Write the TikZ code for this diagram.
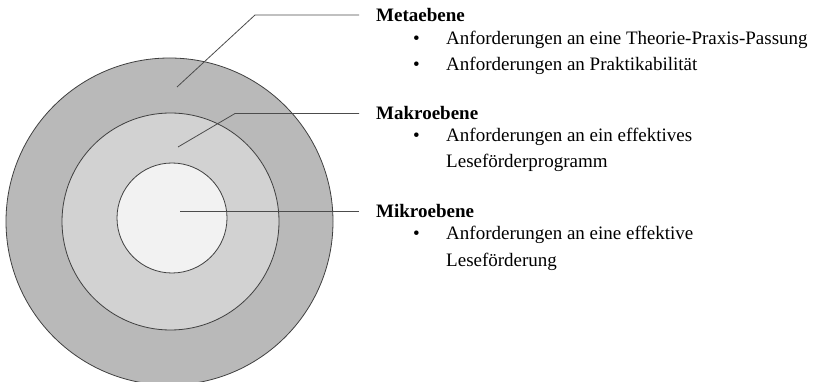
\documentclass[tikz,border=0pt]{standalone}
\usepackage{fontspec}
\setmainfont{Liberation Serif}
\usetikzlibrary{positioning}

\tikzset{
  ring/.style={draw=black!75, line width=0.8pt},
  lead/.style={draw=black!70, line width=0.8pt},
  level/.style={anchor=west, inner xsep=17pt, inner ysep=0pt, font=\fontsize{19}{26}\selectfont\bfseries},
  item/.style={anchor=base west, inner sep=0pt, font=\fontsize{19}{26}\selectfont},
  dot/.style={anchor=base, inner sep=0pt, font=\fontsize{19}{26}\selectfont}
}

\begin{document}
\begin{tikzpicture}[x=1pt,y=-1pt]
        \useasboundingbox (0,0) rectangle (814,382);
        % rings
        \draw[ring, fill=gray!55] (169.5,221.5) circle (163.5);
        \draw[ring, fill=gray!35] (170.5,221.5) circle (108.5);
        \draw[ring, fill=gray!10] (172,218) circle (55);
        % headings
        \node[level] (meta) at (359,15) {Metaebene};
        \node[level] (makro) at (359,113.5) {Makroebene};
        \node[level] (mikro) at (359,211) {Mikroebene};
        % leader lines
        \coordinate (metain) at (177,87);
        \coordinate (metaknee) at (255,15);
        \coordinate (makroin) at (178,147);
        \coordinate (makroknee) at (235,113.5);
        \coordinate (mikroin) at (180,211);
        \draw[lead] (metain) -- (metaknee) -- (meta.west);
        \draw[lead] (makroin) -- (makroknee) -- (makro.west);
        \draw[lead] (mikroin) -- (mikro.west);
        % items
        \node[dot] (b1) at (416.5,45) {\textbullet};
        \node[item] (t1) at (446,45) {Anforderungen an eine Theorie-Praxis-Passung};
        \node[dot] (b2) at (416.5,71) {\textbullet};
        \node[item] (t2) at (446,71) {Anforderungen an Praktikabilität};
        \node[dot] (b3) at (416.5,142) {\textbullet};
        \node[item] (t3) at (446,142) {Anforderungen an ein effektives};
        \node[item] (t3b) at (446,168) {Leseförderprogramm};
        \node[dot] (b4) at (416.5,240) {\textbullet};
        \node[item] (t4) at (446,240) {Anforderungen an eine effektive};
        \node[item] (t4b) at (446,266) {Leseförderung};
\end{tikzpicture}
\end{document}
